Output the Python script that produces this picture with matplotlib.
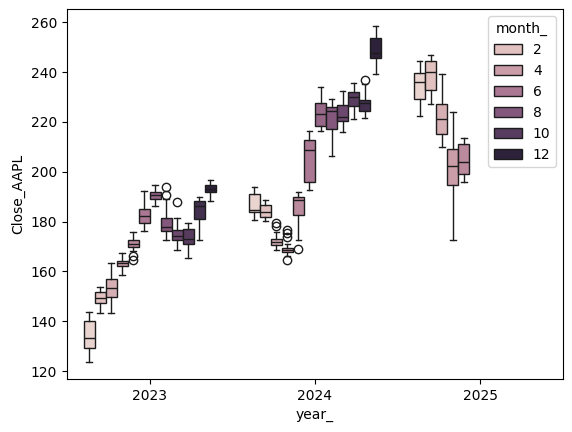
import numpy as np
import matplotlib
matplotlib.use("Agg")
import matplotlib.pyplot as plt
import matplotlib.colors as mcolors
from matplotlib.patches import Patch
import colorsys
import seaborn as sns

# x categories and hue levels
years = [2023, 2024, 2025]
n_months = 12

# one entry per box (year, month)
box_year = [2023] * 12 + [2024] * 12 + [2025] * 5
box_month = [1, 2, 3, 4, 5, 6, 7, 8, 9, 10, 11, 12,
             1, 2, 3, 4, 5, 6, 7, 8, 9, 10, 11, 12,
             1, 2, 3, 4, 5]

whis_lo = [123.6, 143.5, 143.5, 158.4, 168.3, 176.2, 186.4, 172.6, 168.8, 165.6, 172.6, 188.1,
           180.6, 180.2, 168.5, 166.3, 172.6, 192.5, 216.2, 206.5, 215.8, 221.3, 221.7, 239.3,
           222.5, 227.3, 209.8, 172.5, 195.7]
q1 = [129.1, 147.2, 149.7, 162.1, 170.0, 179.3, 189.2, 176.1, 172.8, 171.1, 180.9, 191.7,
      183.8, 181.8, 170.5, 167.7, 182.5, 195.7, 218.4, 217.3, 220.5, 226.4, 224.4, 245.7,
      229.3, 232.7, 215.3, 194.6, 199.0]
med = [133.5, 149.2, 153.4, 163.2, 171.2, 182.2, 190.6, 177.7, 174.4, 173.1, 186.2, 193.2,
       184.8, 183.7, 171.7, 168.5, 188.5, 208.8, 223.2, 224.4, 222.1, 230.1, 227.7, 247.5,
       236.1, 240.1, 221.0, 202.2, 204.1]
q3 = [140.2, 151.6, 156.8, 164.3, 172.6, 184.9, 191.7, 181.3, 176.6, 176.9, 188.4, 194.5,
      190.9, 186.5, 172.9, 169.4, 189.7, 212.6, 227.7, 226.0, 226.8, 232.1, 228.9, 253.5,
      239.7, 244.5, 227.3, 209.3, 211.2]
whis_hi = [143.9, 153.7, 163.2, 167.6, 175.8, 192.1, 194.8, 189.2, 181.3, 179.3, 190.0, 196.5,
           193.9, 188.5, 175.7, 171.0, 191.8, 216.2, 234.1, 229.3, 232.4, 235.8, 235.1, 258.4,
           244.5, 246.9, 239.1, 223.9, 213.4]

outliers = {
    (2023, 5): [166.3, 164.6],
    (2023, 8): [194.0, 190.7],
    (2023, 9): [188.0],
    (2024, 3): [179.4, 178.1],
    (2024, 4): [176.7, 175.3, 173.7, 164.6],
    (2024, 5): [168.9],
    (2024, 11): [236.9],
}

legend_months = [2, 4, 6, 8, 10, 12]

# seaborn's default numeric hue colormap, with boxplot's 0.75 saturation
cmap = sns.cubehelix_palette(as_cmap=True)
norm = mcolors.Normalize(1, 12)


def month_color(m):
    return sns.desaturate(cmap(norm(m)), 0.75)


lights = [colorsys.rgb_to_hls(*cmap(norm(m))[:3])[1] for m in range(1, 13)]
lum = min(lights) * 0.6
line_color = (lum, lum, lum)

slot = 0.8 / n_months

stats = []
positions = []
for i in range(len(box_year)):
    stats.append({
        "whislo": whis_lo[i], "q1": q1[i], "med": med[i],
        "q3": q3[i], "whishi": whis_hi[i],
        "fliers": outliers.get((box_year[i], box_month[i]), []),
    })
    xi = years.index(box_year[i])
    positions.append(xi + (box_month[i] - (n_months + 1) / 2) * slot)

fig = plt.figure(figsize=(5.72, 4.32), dpi=100)
ax = fig.add_axes([67 / 572, 53 / 432, 496 / 572, 369.6 / 432])

lw = 1.0
bp = ax.bxp(stats, positions=positions, widths=slot, capwidths=slot * 0.5,
            patch_artist=True, manage_ticks=False,
            boxprops=dict(edgecolor=line_color, linewidth=lw),
            medianprops=dict(color=line_color, linewidth=lw),
            whiskerprops=dict(color=line_color, linewidth=lw),
            capprops=dict(color=line_color, linewidth=lw),
            flierprops=dict(marker="o", markersize=6, markerfacecolor="none",
                            markeredgecolor=line_color, markeredgewidth=lw))

for patch, m in zip(bp["boxes"], box_month):
    patch.set_facecolor(month_color(m))

ax.set_xlim(-0.5, len(years) - 0.5)
ax.set_xticks(range(len(years)))
ax.set_xticklabels([str(y) for y in years])
ax.set_yticks(np.arange(120, 261, 20))
ax.set_xlabel("year_")
ax.set_ylabel("Close_AAPL")

handles = [Patch(facecolor=month_color(m), edgecolor=line_color, linewidth=lw, label=str(m))
           for m in legend_months]
ax.legend(handles=handles, title="month_", loc="upper right")

fig.savefig("out.png", dpi=100)
